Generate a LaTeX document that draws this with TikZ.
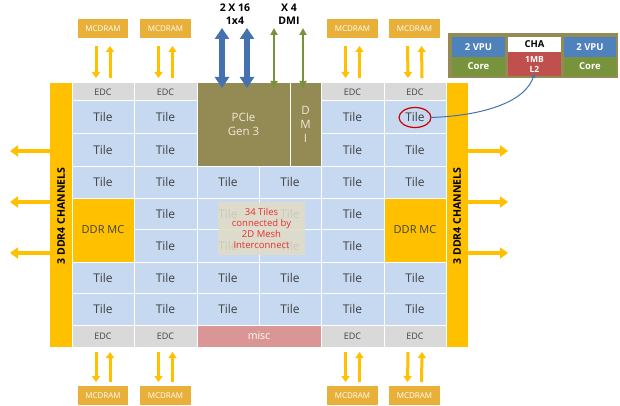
\documentclass[tikz,border=0pt]{standalone}
\usepackage{fontspec}
\setmainfont{Open Sans}
\usetikzlibrary{arrows.meta}
\definecolor{ddryel}{RGB}{255,192,0}
\definecolor{mcd}{RGB}{232,176,56}
\definecolor{tileblue}{RGB}{198,217,241}
\definecolor{edcgray}{RGB}{217,217,217}
\definecolor{olive}{RGB}{148,138,84}
\definecolor{misccol}{RGB}{218,150,148}
\definecolor{txtgray}{RGB}{64,64,64}
\definecolor{pcieblue}{RGB}{68,114,176}
\definecolor{dmigreen}{RGB}{119,147,60}
\definecolor{vpublue}{RGB}{79,129,189}
\definecolor{l2red}{RGB}{192,80,77}
\definecolor{meshbg}{RGB}{224,220,200}
\definecolor{meshred}{RGB}{232,48,48}
\newcommand\blk[7]{%
  \pgfmathsetmacro\bcx{(#2+#4)/2}\pgfmathsetmacro\bcy{(#3+#5)/2}%
  \pgfmathsetmacro\bcw{#4-#2}\pgfmathsetmacro\bch{#5-#3}%
  \node[#6, minimum width=\bcw pt, minimum height=\bch pt] (#1) at (\bcx,\bcy) {#7};}
\begin{document}
\begin{tikzpicture}[x=1pt,y=-1pt,
  base/.style={rectangle, inner sep=0pt, outer sep=0pt, align=center},
  tilebox/.style={base, fill=tileblue, draw=white, line width=1pt, text=txtgray, font=\fontsize{12}{13}\selectfont},
  edcbox/.style={base, fill=edcgray, draw=white, line width=1pt, text=txtgray, font=\fontsize{9}{10}\selectfont},
  ddrbox/.style={base, fill=ddryel, draw=white, line width=1pt, text=txtgray, font=\fontsize{11}{12}\selectfont},
  olivebox/.style={base, fill=olive, draw=white, line width=1pt, text={rgb,255:red,238;green,234;blue,214}, font=\fontsize{11.5}{14}\selectfont},
  miscbox/.style={base, fill=misccol, draw=white, line width=1pt, text=white, font=\fontsize{10.5}{12}\selectfont},
  barbox/.style={base, fill=ddryel},
  mcdbox/.style={base, fill=mcd, text=white, font=\fontsize{8}{9}\selectfont},
  insetcell/.style={base, text=white, font=\bfseries\fontsize{9.5}{11}\selectfont},
  yarr/.style={ddryel, line width=3pt, -{Triangle[length=6pt, width=8pt]}},
  sidearr/.style={ddryel, line width=4pt, -{Triangle[length=8pt, width=11pt]}},
  bluearr/.style={pcieblue, line width=6pt, {Triangle[length=11pt, width=14pt]}-{Triangle[length=11pt, width=14pt]}},
  greenarr/.style={dmigreen, line width=2pt, {Triangle[length=7pt, width=7pt]}-{Triangle[length=7pt, width=7pt]}},
  toplabel/.style={font=\bfseries\fontsize{10.5}{13}\selectfont, align=center, inner sep=0pt}
]
\useasboundingbox (0,0) rectangle (620,406);
\fill[white] (0,0) rectangle (620,406);

% side bars
\blk{lbar}{50}{83}{72}{347}{barbox}{}
\blk{rbar}{446}{83}{468}{347}{barbox}{}
\node[rotate=90, font=\bfseries\fontsize{10.5}{12}\selectfont, inner sep=0pt] (llab) at (61,216) {3 DDR4 CHANNELS};
\node[rotate=90, font=\bfseries\fontsize{10.5}{12}\selectfont, inner sep=0pt] (rlab) at (457,216) {3 DDR4 CHANNELS};

% top EDC row
\blk{edct1}{72}{83}{134}{101}{edcbox}{EDC}
\blk{edct2}{134}{83}{197}{101}{edcbox}{EDC}
\blk{edct5}{321}{83}{384}{101}{edcbox}{EDC}
\blk{edct6}{384}{83}{446}{101}{edcbox}{EDC}
\blk{pcie}{197}{83}{290}{166}{olivebox}{PCIe\\Gen 3}
\blk{dmi}{290}{83}{321}{166}{olivebox}{D\\M\\I}

% rows 1-2
\blk{t11}{72}{101}{134}{134}{tilebox}{Tile}
\blk{t12}{134}{101}{197}{134}{tilebox}{Tile}
\blk{t15}{321}{101}{384}{134}{tilebox}{Tile}
\blk{t16}{384}{101}{446}{134}{tilebox}{Tile}
\blk{t21}{72}{134}{134}{166}{tilebox}{Tile}
\blk{t22}{134}{134}{197}{166}{tilebox}{Tile}
\blk{t25}{321}{134}{384}{166}{tilebox}{Tile}
\blk{t26}{384}{134}{446}{166}{tilebox}{Tile}
% row 3
\blk{t31}{72}{166}{134}{198}{tilebox}{Tile}
\blk{t32}{134}{166}{197}{198}{tilebox}{Tile}
\blk{t33}{197}{166}{259}{198}{tilebox}{Tile}
\blk{t34}{259}{166}{321}{198}{tilebox}{Tile}
\blk{t35}{321}{166}{384}{198}{tilebox}{Tile}
\blk{t36}{384}{166}{446}{198}{tilebox}{Tile}
% rows 4-5
\blk{ddrl}{72}{198}{134}{262}{ddrbox}{DDR MC}
\blk{ddrr}{384}{198}{446}{262}{ddrbox}{DDR MC}
\blk{t42}{134}{198}{197}{229}{tilebox}{Tile}
\blk{t43}{197}{198}{259}{229}{tilebox}{Tile}
\blk{t44}{259}{198}{321}{229}{tilebox}{Tile}
\blk{t45}{321}{198}{384}{229}{tilebox}{Tile}
\blk{t52}{134}{229}{197}{262}{tilebox}{Tile}
\blk{t53}{197}{229}{259}{262}{tilebox}{Tile}
\blk{t54}{259}{229}{321}{262}{tilebox}{Tile}
\blk{t55}{321}{229}{384}{262}{tilebox}{Tile}
% rows 6-7
\blk{t61}{72}{262}{134}{293}{tilebox}{Tile}
\blk{t62}{134}{262}{197}{293}{tilebox}{Tile}
\blk{t63}{197}{262}{259}{293}{tilebox}{Tile}
\blk{t64}{259}{262}{321}{293}{tilebox}{Tile}
\blk{t65}{321}{262}{384}{293}{tilebox}{Tile}
\blk{t66}{384}{262}{446}{293}{tilebox}{Tile}
\blk{t71}{72}{293}{134}{325}{tilebox}{Tile}
\blk{t72}{134}{293}{197}{325}{tilebox}{Tile}
\blk{t73}{197}{293}{259}{325}{tilebox}{Tile}
\blk{t74}{259}{293}{321}{325}{tilebox}{Tile}
\blk{t75}{321}{293}{384}{325}{tilebox}{Tile}
\blk{t76}{384}{293}{446}{325}{tilebox}{Tile}
% bottom row
\blk{edcb1}{72}{325}{134}{347}{edcbox}{EDC}
\blk{edcb2}{134}{325}{197}{347}{edcbox}{EDC}
\blk{misc}{197}{325}{321}{347}{miscbox}{misc}
\blk{edcb5}{321}{325}{384}{347}{edcbox}{EDC}
\blk{edcb6}{384}{325}{446}{347}{edcbox}{EDC}

% mesh overlay
\blk{mesh}{218}{202}{305}{255}{base, fill=meshbg, fill opacity=0.88, text opacity=1, text=meshred, font=\fontsize{9.5}{11}\selectfont}{34 Tiles\\connected by\\2D Mesh\\Interconnect}

% MCDRAM boxes
\blk{mt1}{78}{19}{128}{38}{mcdbox}{MCDRAM}
\blk{mt2}{140}{19}{191}{38}{mcdbox}{MCDRAM}
\blk{mt5}{327}{19}{378}{38}{mcdbox}{MCDRAM}
\blk{mt6}{389}{19}{440}{38}{mcdbox}{MCDRAM}
\blk{mb1}{78}{386}{128}{405}{mcdbox}{MCDRAM}
\blk{mb2}{140}{386}{191}{405}{mcdbox}{MCDRAM}
\blk{mb5}{327}{386}{378}{405}{mcdbox}{MCDRAM}
\blk{mb6}{389}{386}{440}{405}{mcdbox}{MCDRAM}

% MCDRAM arrows (top)
\foreach \m/\e in {mt1/edct1, mt2/edct2, mt5/edct5, mt6/edct6}{
  \draw[yarr] ([xshift=-7pt, yshift=-8pt]\m.south) -- ([xshift=-7pt, yshift=5pt]\e.north);
  \draw[yarr] ([xshift=7pt, yshift=5pt]\e.north) -- ([xshift=7pt, yshift=-8pt]\m.south);
}
% MCDRAM arrows (bottom)
\foreach \m/\e in {mb1/edcb1, mb2/edcb2, mb5/edcb5, mb6/edcb6}{
  \draw[yarr] ([xshift=-7pt, yshift=-5pt]\e.south) -- ([xshift=-7pt, yshift=4pt]\m.north);
  \draw[yarr] ([xshift=7pt, yshift=4pt]\m.north) -- ([xshift=7pt, yshift=-5pt]\e.south);
}

% side arrows
\coordinate (la1) at (10,151); \coordinate (la2) at (10,202); \coordinate (la3) at (10,253);
\coordinate (ra1) at (508,151); \coordinate (ra2) at (508,202); \coordinate (ra3) at (508,253);
\draw[sidearr] (lbar.west |- la1) -- (la1);
\draw[sidearr] (lbar.west |- la2) -- (la2);
\draw[sidearr] (lbar.west |- la3) -- (la3);
\draw[sidearr] (rbar.east |- ra1) -- (ra1);
\draw[sidearr] (rbar.east |- ra2) -- (ra2);
\draw[sidearr] (rbar.east |- ra3) -- (ra3);

% PCIe / DMI arrows
\node[toplabel] (pcielab) at (235,14) {2 X 16\\1x4};
\node[toplabel] (dmilab) at (289,14) {X 4\\DMI};
\coordinate (b1) at (222,28); \coordinate (b2) at (247,28);
\coordinate (g1) at (274,28); \coordinate (g2) at (303,28);
\draw[bluearr] (b1) -- ([yshift=-5pt]pcie.north -| b1);
\draw[bluearr] (b2) -- ([yshift=-5pt]pcie.north -| b2);
\draw[greenarr] (g1) -- ([yshift=-5pt]pcie.north -| g1);
\draw[greenarr] (g2) -- ([yshift=-5pt]dmi.north -| g2);

% inset tile detail
\blk{inset}{448}{33}{618}{78}{base, fill=olive}{}
\blk{vpul}{452}{37}{505}{57}{insetcell, fill=vpublue}{2 VPU}
\blk{corel}{452}{57}{505}{76}{insetcell, fill=dmigreen}{Core}
\blk{cha}{508}{37}{561}{52}{insetcell, fill=white, text=black}{CHA}
\blk{l2}{508}{52}{561}{76}{insetcell, fill=l2red, font=\bfseries\fontsize{8.5}{10}\selectfont}{1MB\\L2}
\blk{vpur}{564}{37}{616}{57}{insetcell, fill=vpublue}{2 VPU}
\blk{corer}{564}{57}{616}{76}{insetcell, fill=dmigreen}{Core}

% highlight ring and connector
\draw[red!80!black, line width=1.2pt] (t16.center) ellipse [x radius=16pt, y radius=10pt];
\coordinate (ringe) at ([xshift=16pt]t16.center);
\draw[pcieblue, line width=1pt, -{Stealth[length=5pt, width=4pt]}] (ringe) .. controls +(55,-2) and +(-8,28) .. ([yshift=3pt]l2.south);
\end{tikzpicture}
\end{document}
